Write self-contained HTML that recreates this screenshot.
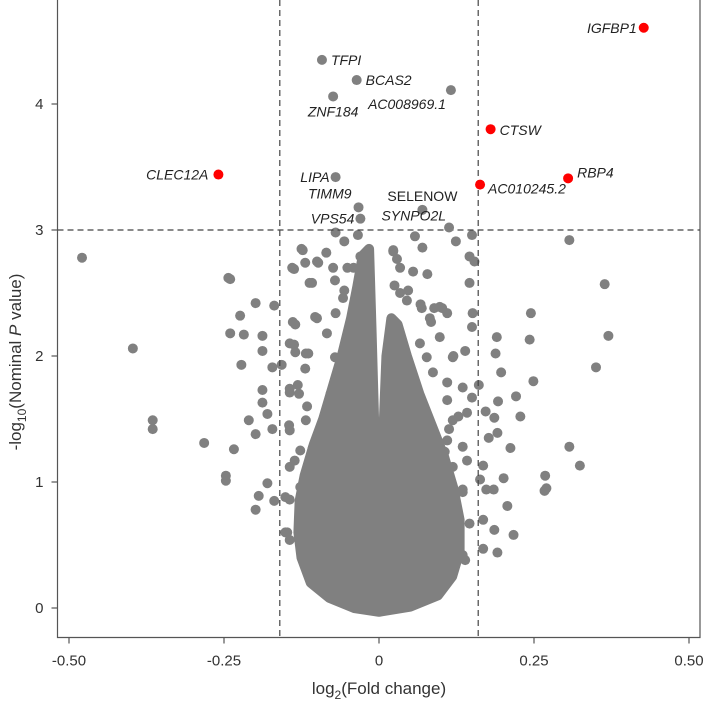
<!DOCTYPE html>
<html><head><meta charset="utf-8"><style>
body{margin:0;background:#fff}
svg{display:block;font-family:"Liberation Sans",sans-serif}
</style></head><body>
<div style="position:relative;width:704px;height:703px">
<svg id="chart" width="704" height="703" viewBox="0 0 704 703" style="position:absolute;left:0;top:0"></svg>
<svg width="704" height="703" style="position:absolute;left:0;top:0">
<text x="379" y="694" text-anchor="middle" font-size="17" fill="#333" font-family="Liberation Sans, sans-serif">log<tspan font-size="12" dy="5">2</tspan><tspan dy="-5">(Fold change)</tspan></text>
<text transform="translate(21,362) rotate(-90)" text-anchor="middle" font-size="17" fill="#333" font-family="Liberation Sans, sans-serif">-log<tspan font-size="12" dy="5">10</tspan><tspan dy="-5">(Nominal </tspan><tspan font-style="italic">P</tspan> value)</text>
</svg>
</div>
<script>
const xTicks=[-0.5,-0.25,0,0.25,0.5];
const xTickLabels=["-0.50","-0.25","0","0.25","0.50"];
const yTicks=[0,1,2,3,4];
const yTickLabels=["0","1","2","3","4"];
const fcThreshold=0.16;
const pThreshold=3;
const geneNames=["IGFBP1","TFPI","BCAS2","ZNF184","AC008969.1","CTSW","CLEC12A","LIPA","RBP4","AC010245.2","TIMM9","SELENOW","VPS54","SYNPO2L"];
const geneFC=[0.427,-0.092,-0.036,-0.074,0.116,0.180,-0.259,-0.070,0.305,0.163,-0.033,0.070,-0.030,0.113];
const geneP=[4.605,4.35,4.19,4.06,4.11,3.80,3.44,3.42,3.41,3.36,3.18,3.16,3.09,3.02];
const geneSig=[1,0,0,0,0,1,1,0,1,1,0,0,0,0];
const otherFC=[-0.479,-0.397,-0.365,-0.365,-0.282,-0.243,-0.240,-0.247,-0.247,-0.234,-0.224,-0.240,-0.218,-0.222,-0.199,-0.210,-0.199,-0.199,-0.194,-0.180,-0.188,-0.188,-0.169,-0.172,-0.157,-0.188,-0.188,-0.180,-0.172,-0.169,-0.151,-0.144,-0.118,-0.140,-0.125,-0.112,-0.100,-0.103,-0.085,-0.070,-0.056,-0.034,-0.139,-0.137,-0.118,-0.119,-0.144,-0.129,-0.118,-0.145,
0.023,0.029,0.058,0.070,0.078,0.124,0.150,0.146,0.154,0.146,0.307,0.364,0.370,0.350,0.245,0.243,0.249,0.221,0.228,0.307,0.324,0.268,0.270,0.267,0.217,0.207,0.201,0.212,0.191,0.190,0.188,0.197,0.192,0.186,0.172,0.177,0.168,0.185,0.173,0.186,0.191,0.168,0.168,0.163,0.151,0.150,0.139,0.120,0.102,0.089,0.084,0.067,0.047,0.025,0.161,0.150,0.128,0.113,0.106,0.142,0.135,0.113,0.104,0.106,0.135,0.146,0.080,
-0.107,-0.136,-0.151,-0.107,-0.063,-0.078,-0.092,-0.078,-0.063,-0.078,-0.063,-0.048,-0.070,-0.056,-0.041,-0.030,-0.023,-0.074,-0.051,
-0.123,-0.137,-0.119,-0.098,-0.108,-0.100,-0.135,-0.144,-0.135,-0.114,-0.131,-0.144,-0.116,-0.144,-0.127,-0.144,-0.127,-0.144,-0.148,-0.116,-0.084,-0.071,-0.071,-0.058,
0.023,0.034,0.055,0.034,0.045,0.069,0.082,0.098,0.110,0.098,0.066,0.077,0.119,0.087,0.110,0.135,0.110,0.142,0.119,0.110,0.135,0.119,0.135,0.110,0.126,0.139,0.106,0.103];
const otherP=[2.78,2.06,1.49,1.42,1.31,2.62,2.61,1.05,1.01,1.26,2.32,2.18,2.17,1.93,2.42,1.49,1.38,0.78,0.89,0.99,2.16,2.04,2.40,1.91,1.93,1.73,1.63,1.54,1.42,0.85,0.60,0.54,0.38,2.70,2.85,2.58,2.75,2.31,2.82,2.98,2.91,2.96,2.27,2.09,2.02,1.90,1.74,1.70,1.49,1.45,
2.84,2.77,2.95,2.86,2.65,2.91,2.96,2.79,2.75,2.58,2.92,2.57,2.16,1.91,2.34,2.13,1.80,1.68,1.52,1.28,1.13,1.05,0.95,0.93,0.58,0.81,1.03,1.27,1.39,2.15,2.02,1.87,1.64,1.51,1.56,1.35,1.13,0.94,0.94,0.62,0.44,0.70,0.47,1.02,2.34,2.23,2.04,2.00,2.38,2.38,2.27,2.41,2.52,2.56,1.77,1.67,1.52,1.42,1.24,1.17,0.92,0.74,0.21,0.33,0.42,0.67,1.06,
1.27,1.17,0.88,0.70,0.53,0.24,0.92,1.20,1.42,1.70,1.88,2.20,2.34,2.52,2.70,2.79,2.63,2.70,2.70,
2.84,2.69,2.74,2.74,2.58,2.30,2.25,2.10,2.03,2.02,1.77,1.71,1.60,1.41,1.25,1.12,0.96,0.86,0.60,0.37,2.18,1.99,2.60,2.46,
2.83,2.70,2.67,2.50,2.44,2.38,2.30,2.39,2.34,2.15,2.10,1.99,1.99,1.87,1.79,1.75,1.65,1.55,1.49,1.33,1.28,1.12,0.94,0.78,0.46,0.38,0.33,0.20];
// dense core envelope (data units)
const coreFC=[0,-0.04,-0.08,-0.11,-0.125,-0.13,-0.128,-0.12,-0.105,-0.09,-0.075,-0.06,-0.045,-0.035,-0.026,-0.016,-0.012,-0.008,-0.004,0,0.004,0.008,0.012,0.02,0.03,0.045,0.065,0.085,0.105,0.12,0.13,0.13,0.118,0.095,0.05];
const coreP=[-0.03,0.0,0.08,0.2,0.4,0.6,0.85,1.05,1.3,1.5,1.75,2.0,2.3,2.55,2.8,2.85,2.2,1.5,0.9,0.5,0.9,1.5,2.0,2.3,2.25,2.0,1.7,1.45,1.2,0.95,0.7,0.45,0.25,0.1,0.01];

const NS='http://www.w3.org/2000/svg';
const svg=document.getElementById('chart');
const X=v=>379+v*620;
const Y=v=>608-v*126;
function mk(tag,attrs,parent){const e=document.createElementNS(NS,tag);for(const k in attrs)e.setAttribute(k,attrs[k]);(parent||svg).appendChild(e);return e;}
const L=57.5,R=700,T=0,B=637.5;
let ax=mk('path',{d:`M${L},${T}V${B}H${R}V${T}`,fill:'none',stroke:'#555','stroke-width':1.2});


xTicks.forEach((t,i)=>{
  let tk=mk('line',{x1:X(t),x2:X(t),y1:B,y2:B+6,stroke:'#555','stroke-width':1.2});
  
  
  let tx=mk('text',{x:X(t),y:B+28,'text-anchor':'middle','font-size':15,fill:'#333'});
  tx.textContent=xTickLabels[i];
  
  
});
yTicks.forEach((t,i)=>{
  let tk=mk('line',{x1:L-6,x2:L,y1:Y(t),y2:Y(t),stroke:'#555','stroke-width':1.2});
  
  
  let tx=mk('text',{x:L-14,y:Y(t)+5,'text-anchor':'end','font-size':15,fill:'#333'});
  tx.textContent=yTickLabels[i];
  
  
});
let pts=coreFC.map((v,i)=>X(v)+','+Y(coreP[i])).join(' ');
let core=mk('polygon',{points:pts,fill:'#808080',stroke:'#808080','stroke-width':10,'stroke-linejoin':'round'});


otherFC.forEach((v,i)=>{
  let c=mk('circle',{cx:X(v),cy:Y(otherP[i]),r:5,fill:'#808080'});
  
  
});
[-fcThreshold,fcThreshold].forEach(t=>{
  let l=mk('line',{x1:X(t),x2:X(t),y1:T,y2:B,stroke:'#444','stroke-width':1.2,'stroke-dasharray':'6,4'});
  
  
});
let hl=mk('line',{x1:L,x2:R,y1:Y(pThreshold),y2:Y(pThreshold),stroke:'#444','stroke-width':1.2,'stroke-dasharray':'6,4'});


const labelOff=[[-7,5,'end'],[9,5,'start'],[9,5,'start'],[0,20,'middle'],[-5,19,'end'],[9,6,'start'],[-10,5,'end'],[-6,5,'end'],[9,-1,'start'],[8,9,'start'],[-7,-9,'end'],[0,-9,'middle'],[-6,5,'end'],[-3,-7,'end']];
geneNames.forEach((n,i)=>{
  let c=mk('circle',{cx:X(geneFC[i]),cy:Y(geneP[i]),r:5,fill:geneSig[i]?'#f00':'#808080'});
  
  
  const o=labelOff[i];
  let t=mk('text',{x:X(geneFC[i])+o[0],y:Y(geneP[i])+o[1],'text-anchor':o[2],'font-size':14,'font-style':n==='SELENOW'?'normal':'italic',fill:'#222'});
  t.textContent=n;
  
  
});
</script>
</body></html>
